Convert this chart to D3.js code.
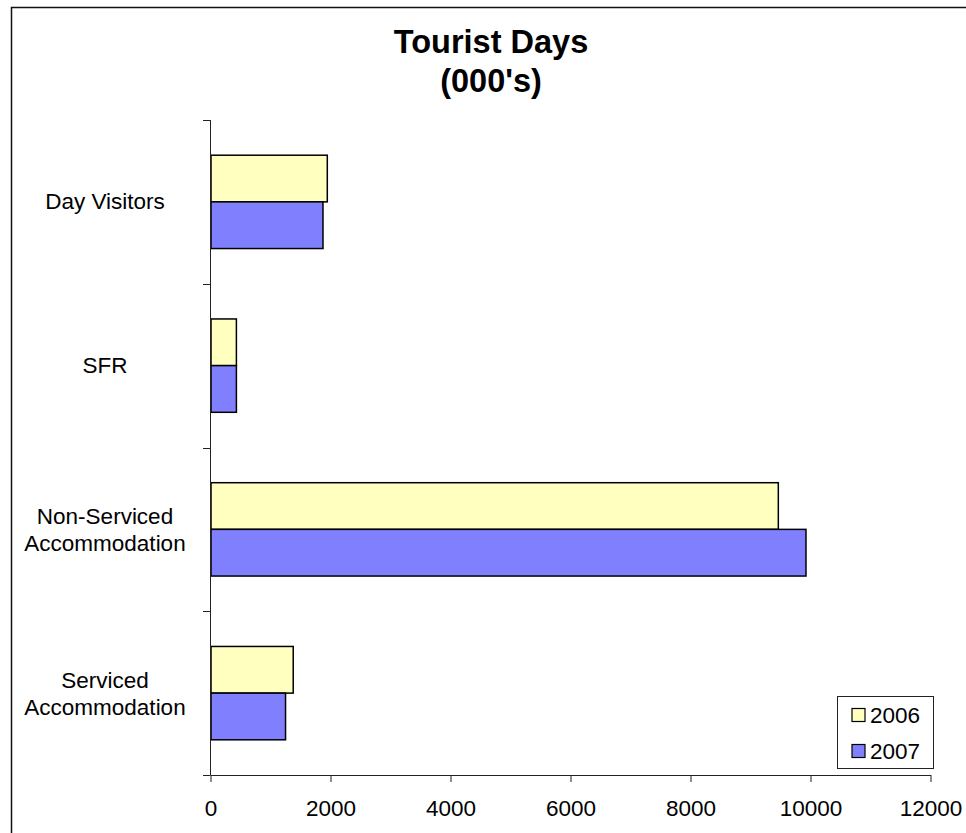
<!DOCTYPE html>
<html>
<head>
<meta charset="utf-8">
<script src="https://cdn.jsdelivr.net/npm/d3@7"></script>
<style>
  body { margin: 0; background: #fff; }
  text { font-family: "Liberation Sans", Arial, sans-serif; fill: #000; }
</style>
</head>
<body>
<div id="root"></div>
<script>
// data (thousands of tourist days)
const categories = ["Day Visitors", "SFR", "Non-Serviced Accommodation", "Serviced Accommodation"]
const categoryLines = [["Day Visitors"], ["SFR"], ["Non-Serviced", "Accommodation"], ["Serviced", "Accommodation"]]
const seriesNames = ["2006", "2007"]
const values2006 = [1955, 440, 9472, 1387]
const values2007 = [1883, 440, 9933, 1259]
const xTicks = [0, 2000, 4000, 6000, 8000, 10000, 12000]
const colors = ["#FFFFC0", "#8080FF"]

const width = 966, height = 833
const plot = {left: 210, right: 930, top: 120, bottom: 775}

const svg = d3.select("#root").append("svg")
    .attr("width", width)
    .attr("height", height)

// outer chart frame (runs off the right and bottom edge)
svg.append("rect")
    .attr("x", 11.5).attr("y", 7.5)
    .attr("width", 1000).attr("height", 1000)
    .attr("fill", "none")
    .attr("stroke", "#111")
    .attr("stroke-width", 1.5)

// title
const title = svg.append("text")
    .attr("text-anchor", "middle")
    .attr("font-weight", "bold")
    .attr("font-size", 32.5)
title.append("tspan").attr("x", 491).attr("y", 53).text("Tourist Days")
title.append("tspan").attr("x", 491).attr("y", 91.5).text("(000's)")

const x = d3.scaleLinear().domain([0, 12000]).range([plot.left, plot.right])
const y = d3.scaleBand().domain(categories).range([plot.top, plot.bottom])
    .paddingInner(0.43).paddingOuter(0.215)
const sub = d3.scaleBand().domain(seriesNames).range([0, y.bandwidth()])

const rows = categories.map((c, i) => ({cat: c, vals: [values2006[i], values2007[i]]}))

// bars
const groups = svg.append("g").selectAll("g")
    .data(rows).join("g")
    .attr("transform", d => `translate(0,${y(d.cat)})`)
groups.selectAll("rect")
    .data(d => d.vals.map((v, k) => ({name: seriesNames[k], v: v, k: k})))
    .join("rect")
    .attr("x", x(0) + 1)
    .attr("y", d => sub(d.name))
    .attr("width", d => x(d.v) - x(0) - 1)
    .attr("height", sub.bandwidth())
    .attr("fill", d => colors[d.k])
    .attr("stroke", "#000")
    .attr("stroke-width", 1.5)

// x axis
const xAxis = svg.append("g")
    .attr("transform", `translate(0.5,${plot.bottom})`)
    .call(d3.axisBottom(x).tickValues(xTicks).tickSize(7).tickSizeOuter(0).tickFormat(d3.format("d")))
xAxis.select(".domain").attr("stroke", "#222")
xAxis.selectAll(".tick line").attr("stroke", "#222")
xAxis.selectAll(".tick text")
    .attr("font-size", 22.5)
    .attr("font-family", "Liberation Sans, Arial, sans-serif")
    .attr("y", 41)
    .attr("dy", 0)
    .attr("fill", "#000")

// y axis: line plus ticks on the category boundaries
const yAxis = svg.append("g")
yAxis.append("line")
    .attr("x1", plot.left + 0.5).attr("x2", plot.left + 0.5)
    .attr("y1", plot.top).attr("y2", plot.bottom)
    .attr("stroke", "#222")
const boundaries = d3.range(categories.length + 1).map(i => plot.top + i * y.step())
yAxis.selectAll(".ytick")
    .data(boundaries).join("line")
    .attr("class", "ytick")
    .attr("x1", plot.left - 7).attr("x2", plot.left + 0.5)
    .attr("y1", d => Math.round(d) + 0.5).attr("y2", d => Math.round(d) + 0.5)
    .attr("stroke", "#222")

// category labels
svg.append("g").selectAll("text")
    .data(rows).join("text")
    .attr("text-anchor", "middle")
    .attr("font-size", 22.5)
    .each(function(d, i) {
        const lines = categoryLines[i]
        const cy = y(d.cat) + y.bandwidth() / 2
        const first = lines.length === 1 ? cy + 7.5 : cy - 5.5
        lines.forEach((l, j) => {
            d3.select(this).append("tspan")
                .attr("x", 105)
                .attr("y", first + j * 27.5)
                .text(l)
        })
    })

// legend
const legend = svg.append("g")
legend.append("rect")
    .attr("x", 837.5).attr("y", 696.5)
    .attr("width", 96).attr("height", 72)
    .attr("fill", "#fff")
    .attr("stroke", "#222")
    .attr("stroke-width", 1)
seriesNames.forEach((s, k) => {
    const ly = 708.5 + k * 36
    legend.append("rect")
        .attr("x", 852).attr("y", ly)
        .attr("width", 13).attr("height", 13)
        .attr("fill", colors[k])
        .attr("stroke", "#000")
        .attr("stroke-width", 1.2)
    legend.append("text")
        .attr("x", 870).attr("y", ly + 14)
        .attr("font-size", 22.5)
        .text(s)
})
</script>
</body>
</html>
